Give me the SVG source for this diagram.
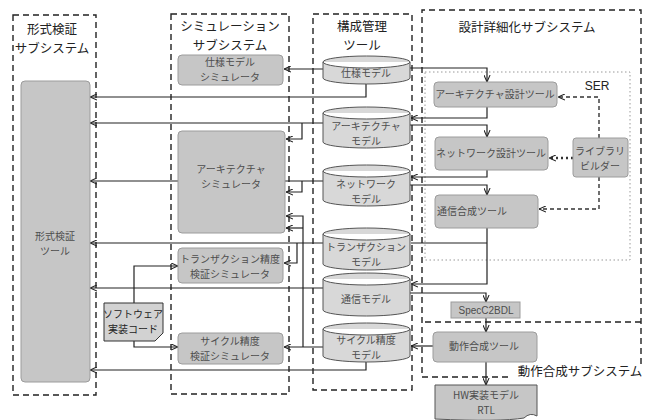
<svg xmlns="http://www.w3.org/2000/svg" width="660" height="420" viewBox="0 0 660 420">
<defs>
<style>
.sub{fill:none;stroke:#222;stroke-width:1.4;stroke-dasharray:6 4}
.ser{fill:none;stroke:#999;stroke-width:1;stroke-dasharray:1.5 2.5}
.g{fill:#c6c6c6;stroke:#9c9c9c;stroke-width:1}
.cyl{fill:#d8d8d8;stroke:#555;stroke-width:1}
.doc{fill:#d2d2d2;stroke:#333;stroke-width:1}
.ln{fill:none;stroke:#222;stroke-width:1.2}
.dash{fill:none;stroke:#333;stroke-width:1.4;stroke-dasharray:4 3}
.dot{fill:none;stroke:#333;stroke-width:2.4;stroke-dasharray:2 3}
text{font-family:"Noto Sans CJK JP","Noto Sans",sans-serif;text-anchor:middle}
.t{font-size:12.5px;fill:#222}
.l{font-size:10px;fill:#4d4d4d}
.d{font-size:10px;fill:#222}
</style>
<marker id="ah" viewBox="0 0 8 8" refX="8" refY="4" markerWidth="7" markerHeight="7" orient="auto" markerUnits="userSpaceOnUse"><path d="M0,0.5 L8,4 L0,7.5" fill="none" stroke="#222" stroke-width="1.2"/></marker>
</defs>
<rect width="660" height="420" fill="#fff"/>

<g id="subsystems">
<rect class="sub" x="13" y="15" width="83" height="380"/>
<text class="t" x="52" y="34">形式検証</text>
<text class="t" x="52" y="53">サブシステム</text>
<rect class="sub" x="171" y="14" width="118" height="380"/>
<text class="t" x="230" y="31">シミュレーション</text>
<text class="t" x="230" y="50">サブシステム</text>
<rect class="sub" x="313" y="14" width="99" height="376"/>
<text class="t" x="362" y="31">構成管理</text>
<text class="t" x="362" y="50">ツール</text>
<path class="sub" d="M641,364 V10 H422 V377 H512"/>
<text class="t" x="527" y="32">設計詳細化サブシステム</text>
<path class="sub" d="M425,322 H641"/>
<text class="t" x="580" y="376">動作合成サブシステム</text>
<rect class="ser" x="425" y="72" width="205" height="188"/>
<text class="t" x="597" y="90" style="font-family:'Liberation Sans',sans-serif;font-size:12px">SER</text>
</g>

<g id="connectors">
<path class="ln" marker-end="url(#ah)" d="M323,69 H284"/>
<path class="ln" marker-end="url(#ah)" d="M366,84 V97 H90"/>
<path class="ln" marker-end="url(#ah)" d="M410,68 H487 V82"/>
<path class="ln" marker-end="url(#ah)" d="M487,107 V118 H411"/>
<path class="ln" marker-end="url(#ah)" d="M410,125 H487 V137"/>
<path class="ln" marker-end="url(#ah)" d="M487,170 V177 H411"/>
<path class="ln" marker-end="url(#ah)" d="M410,185 H487 V195"/>
<path class="ln" marker-end="url(#ah)" d="M487,228 V284 H411"/>
<path class="ln" d="M411,243 H487"/>
<path class="ln" marker-end="url(#ah)" d="M410,293 H486 V302"/>
<path class="ln" marker-end="url(#ah)" d="M486,318 V332"/>
<path class="ln" marker-end="url(#ah)" d="M433,346 H411"/>
<path class="ln" marker-end="url(#ah)" d="M486,362 V385"/>
<path class="dash" marker-end="url(#ah)" d="M599,138 V97 H558"/>
<path class="dot" marker-end="url(#ah)" d="M573,158 H549"/>
<path class="dash" marker-end="url(#ah)" d="M599,177 V209 H539"/>
<path class="ln" marker-end="url(#ah)" d="M323,123 H90"/>
<path class="ln" marker-end="url(#ah)" d="M302,123 V139 H286"/>
<path class="ln" marker-end="url(#ah)" d="M323,181 H90"/>
<path class="ln" marker-end="url(#ah)" d="M302,181 V192 H286"/>
<path class="ln" marker-end="url(#ah)" d="M323,243 H90"/>
<path class="ln" marker-end="url(#ah)" d="M297,243 V263 H284"/>
<path class="ln" marker-end="url(#ah)" d="M323,288 H90"/>
<path class="ln" marker-end="url(#ah)" d="M323,347 H284"/>
<path class="ln" marker-end="url(#ah)" d="M303,347 V216 H286"/>
<path class="ln" marker-end="url(#ah)" d="M303,228 H286"/>
<path class="ln" marker-end="url(#ah)" d="M366,362 V370 H90"/>
<path class="ln" marker-end="url(#ah)" d="M134,303 V266 H178"/>
<path class="ln" marker-end="url(#ah)" d="M134,341 V347 H178"/>
</g>

<g id="formal-tool"><rect class="g" x="21" y="81" width="69" height="301" rx="4"/><text class="l" x="55" y="240">形式検証</text><text class="l" x="55" y="255">ツール</text></g>

<g id="spec-sim"><rect class="g" x="178" y="55" width="105" height="30" rx="4"/><text class="l" x="230" y="66">仕様モデル</text><text class="l" x="230" y="81">シミュレータ</text></g>
<g id="arch-sim"><rect class="g" x="178" y="131" width="107" height="102" rx="4"/><text class="l" x="231" y="173">アーキテクチャ</text><text class="l" x="231" y="188">シミュレータ</text></g>
<g id="tx-sim"><rect class="g" x="178" y="248" width="105" height="35" rx="4"/><text class="l" x="230" y="263">トランザクション精度</text><text class="l" x="230" y="278">検証シミュレータ</text></g>
<g id="cycle-sim"><rect class="g" x="178" y="333" width="105" height="31" rx="4"/><text class="l" x="230" y="345">サイクル精度</text><text class="l" x="230" y="360">検証シミュレータ</text></g>

<g id="sw-code"><path class="doc" d="M104,303 H163 V333 L155,341 H104 Z"/><text class="d" x="133" y="318">ソフトウェア</text><text class="d" x="133" y="333">実装コード</text></g>

<g id="spec-model"><path class="cyl" d="M323,62 a43.5,6 0 0 1 87,0 v16 a43.5,6 0 0 1 -87,0 z M323,62 a43.5,6 0 0 0 87,0"/><text class="l" x="366" y="77">仕様モデル</text></g>
<g id="arch-model"><path class="cyl" d="M323,113 a43.5,6 0 0 1 87,0 v29 a43.5,6 0 0 1 -87,0 z M323,113 a43.5,6 0 0 0 87,0"/><text class="l" x="366" y="130">アーキテクチャ</text><text class="l" x="366" y="145">モデル</text></g>
<g id="net-model"><path class="cyl" d="M323,171 a43.5,6 0 0 1 87,0 v29 a43.5,6 0 0 1 -87,0 z M323,171 a43.5,6 0 0 0 87,0"/><text class="l" x="366" y="188">ネットワーク</text><text class="l" x="366" y="203">モデル</text></g>
<g id="tx-model"><path class="cyl" d="M323,234 a43.5,6 0 0 1 87,0 v30 a43.5,6 0 0 1 -87,0 z M323,234 a43.5,6 0 0 0 87,0"/><text class="l" x="366" y="251">トランザクション</text><text class="l" x="366" y="266">モデル</text></g>
<g id="comm-model"><path class="cyl" d="M323,279 a43.5,6 0 0 1 87,0 v31 a43.5,6 0 0 1 -87,0 z M323,279 a43.5,6 0 0 0 87,0"/><text class="l" x="366" y="303">通信モデル</text></g>
<g id="cycle-model"><path class="cyl" d="M323,329 a43.5,6 0 0 1 87,0 v27 a43.5,6 0 0 1 -87,0 z M323,329 a43.5,6 0 0 0 87,0"/><text class="l" x="366" y="344">サイクル精度</text><text class="l" x="366" y="359">モデル</text></g>

<g id="arch-tool"><rect class="g" x="434" y="82" width="123" height="25" rx="4"/><text class="l" x="495" y="98">アーキテクチャ設計ツール</text></g>
<g id="net-tool"><rect class="g" x="435" y="137" width="113" height="33" rx="4"/><text class="l" x="491" y="157">ネットワーク設計ツール</text></g>
<g id="lib-builder"><rect class="g" x="573" y="138" width="55" height="39" rx="3"/><text class="l" x="600" y="155">ライブラリ</text><text class="l" x="600" y="170">ビルダー</text></g>
<g id="comm-tool"><rect class="g" x="435" y="195" width="103" height="33" rx="4"/><text class="l" x="472" y="215">通信合成ツール</text></g>
<g id="specc2bdl"><rect class="g" x="451" y="302" width="69" height="16"/><text class="l" x="486" y="314" style="font-family:'Liberation Sans',sans-serif">SpecC2BDL</text></g>
<g id="hls-tool"><rect class="g" x="433" y="332" width="104" height="30" rx="4"/><text class="l" x="484" y="350">動作合成ツール</text></g>
<g id="hw-rtl"><path class="g" style="stroke:#555" d="M435,385 H537 V416 Q530,412 524,418 Q500,422 435,419 Z"/><text class="l" x="486" y="399">HW実装モデル</text><text class="l" x="486" y="414">RTL</text></g>
</svg>
